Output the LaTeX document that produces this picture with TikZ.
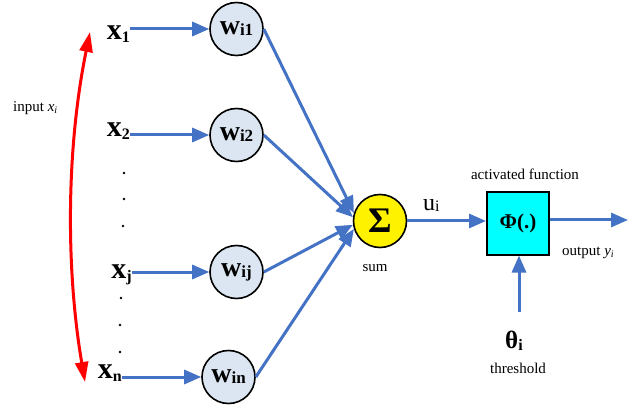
\documentclass[tikz,border=0pt]{standalone}
\usepackage{fontspec}
\setmainfont{Liberation Serif}
\usetikzlibrary{arrows.meta}
\definecolor{lineblue}{HTML}{4472C4}
\definecolor{wfill}{HTML}{DCE6F2}
\definecolor{boxcyan}{HTML}{00FFFF}
\newcommand{\dn}[3]{\raisebox{-#2pt}{\fontsize{#1}{#1}\selectfont #3}}
\begin{document}
\begin{tikzpicture}[x=1pt,y=-1pt,
  arr/.style={draw=lineblue, line width=3pt, -{Triangle[length=17pt,width=14pt]}},
  wnode/.style={circle, draw=black, line width=1.6pt, fill=wfill, minimum size=53pt, inner sep=0pt, font=\fontsize{28}{28}\selectfont\bfseries},
  xlab/.style={inner sep=0pt, anchor=base east, font=\fontsize{30}{30}\selectfont\bfseries},
  small/.style={font=\fontsize{15}{17}\selectfont, inner sep=0pt},
  dotmark/.style={fill=black}
]
\useasboundingbox (0,0) rectangle (637,406);

% input labels
\node[xlab] (x1) at (130,40) {x\dn{16}{3}{1}};
\node[xlab] (x2) at (130,137) {x\dn{16}{3}{2}};
\node[xlab] (xj) at (132,278) {x\dn{16}{3}{j}};
\node[xlab] (xn) at (122,378) {x\dn{16}{3}{n}};

% weight circles
\node[wnode] (w1) at (236.5,29) {w\dn{17}{1}{i1}};
\node[wnode] (w2) at (236.5,135) {w\dn{17}{1}{i2}};
\node[wnode] (wj) at (236.5,272) {w\dn{17}{1}{ij}};
\node[wnode] (wn) at (228.5,377) {w\dn{17}{1}{in}};

% dots
\foreach \p in {(124,173),(124,199),(123,226),(121,298),(120,325),(120,352)}
  \fill[dotmark] \p circle (1.4);

% input arrows
\draw[arr] (x1.east |- w1.west) -- (w1.west);
\draw[arr] (x2.east |- w2.west) -- (w2.west);
\draw[arr] (xj.east |- wj.west) -- (wj.west);
\draw[arr] (xn.east |- wn.west) -- (wn.west);

% red range arrow
\coordinate (rtop) at (90,32);
\coordinate (rbot) at (85,382);
\draw[red, line width=3pt, {Triangle[length=20pt,width=13pt]}-{Triangle[length=20pt,width=13pt]}]
  (rbot) .. controls (66,270) and (66,150) .. (rtop);
\node[small, anchor=west] (inp) at (13,108) {input \textit{x}\dn{10}{2}{\textit{i}}};

% sum
\node[circle, draw=black, line width=1.6pt, fill=yellow, minimum size=53pt, inner sep=0pt,
      font=\fontsize{36}{36}\selectfont\bfseries] (sum) at (380,221) {Σ};
\node[small] (sumlab) at (375,268) {sum};

\draw[arr] (w1.east) -- (sum.163);
\draw[arr] (w2.east) -- (sum.172);
\draw[arr] (wj.east) -- (sum.188);
\draw[arr] (wn.east) -- (sum.197);

% activation box
\node[draw=black, line width=2pt, fill=boxcyan, minimum size=62pt, inner sep=0pt,
      font=\fontsize{21}{21}\selectfont\bfseries] (phi) at (518,223.5) {Φ(.)};
\node[small] (actlab) at (525,174) {activated function};

\draw[arr] (sum.east) -- (sum.east -| phi.west);
\node[inner sep=0pt, anchor=base west, font=\fontsize{24}{24}\selectfont] (ui) at (423,211) {u\dn{16}{1}{i}};

% output
\coordinate (outend) at (628,220);
\draw[arr] (phi.east |- outend) -- (outend);
\node[small, anchor=west] (outlab) at (562,253) {output \textit{y}\dn{10}{2}{\textit{i}}};

% threshold
\coordinate (thstart) at (519,312);
\draw[arr] (thstart) -- (thstart |- phi.south);
\node[inner sep=0pt, anchor=base west, font=\fontsize{25}{25}\selectfont\bfseries] (theta) at (505,348) {θ\dn{16}{2}{i}};
\node[small] (thlab) at (518,368) {threshold};
\end{tikzpicture}
\end{document}
